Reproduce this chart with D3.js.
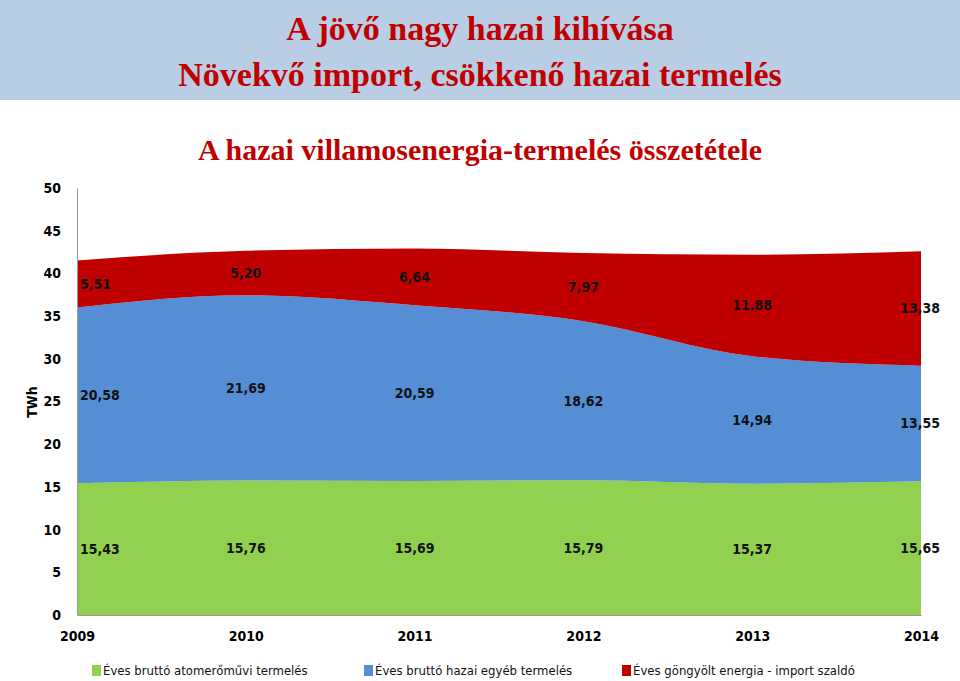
<!DOCTYPE html>
<html>
<head>
<meta charset="utf-8">
<script src="https://cdn.jsdelivr.net/npm/d3@7"></script>
<style>
  body { margin: 0; background: #fff; }
  svg { display: block; }
</style>
</head>
<body>
<div id="chart"></div>
<script>
// data
const years = ["2009", "2010", "2011", "2012", "2013", "2014"];
const nuclear = [15.43, 15.76, 15.69, 15.79, 15.37, 15.65];
const otherDomestic = [20.58, 21.69, 20.59, 18.62, 14.94, 13.55];
const importBalance = [5.51, 5.20, 6.64, 7.97, 11.88, 13.38];
const seriesNames = [
  "Éves bruttó atomerőművi termelés",
  "Éves bruttó hazai egyéb termelés",
  "Éves göngyölt energia - import szaldó"
];
const colors = ["#92d050", "#558ed5", "#c00000"];
const yTicks = [0, 5, 10, 15, 20, 25, 30, 35, 40, 45, 50];

const width = 960, height = 681;
const fmt = v => v.toFixed(2).replace(".", ",");
const bodyFont = "'DejaVu Sans Condensed', 'Liberation Sans Narrow', sans-serif";

const svg = d3.select("#chart").append("svg")
  .attr("width", width).attr("height", height);

// title band
svg.append("rect").attr("x", 0).attr("y", 0).attr("width", width).attr("height", 100)
  .attr("fill", "#b9cde5");
svg.append("text").attr("x", 480).attr("y", 40).attr("text-anchor", "middle")
  .attr("font-family", "'Liberation Serif', serif").attr("font-weight", "bold")
  .attr("font-size", 34).attr("fill", "#c00000").text("A jövő nagy hazai kihívása");
svg.append("text").attr("x", 480).attr("y", 86).attr("text-anchor", "middle")
  .attr("font-family", "'Liberation Serif', serif").attr("font-weight", "bold")
  .attr("font-size", 34).attr("fill", "#c00000").text("Növekvő import, csökkenő hazai termelés");
svg.append("text").attr("x", 480).attr("y", 160).attr("text-anchor", "middle")
  .attr("font-family", "'Liberation Serif', serif").attr("font-weight", "bold")
  .attr("font-size", 30).attr("fill", "#c00000").text("A hazai villamosenergia-termelés összetétele");

// scales
const x = d3.scalePoint().domain(years).range([77, 921]);
const y = d3.scaleLinear().domain([0, 50]).range([615, 188]);

const table = years.map((yr, i) => ({
  year: yr, a: nuclear[i], b: otherDomestic[i], c: importBalance[i]
}));
const stack = d3.stack().keys(["a", "b", "c"])(table);

const area = d3.area()
  .x(d => x(d.data.year))
  .y0(d => y(d[0]))
  .y1(d => y(d[1]))
  .curve(d3.curveMonotoneX);

svg.append("g").selectAll("path").data(stack).join("path")
  .attr("d", area).attr("fill", (d, i) => colors[i]);

// axes
const yAxis = svg.append("g").attr("transform", "translate(77,0)")
  .call(d3.axisLeft(y).tickValues(yTicks).tickSize(0).tickPadding(16));
yAxis.select(".domain").attr("stroke", "#999");
yAxis.selectAll("text").attr("font-family", bodyFont).attr("font-weight", "bold")
  .attr("font-size", 14).attr("fill", "#000");

const xAxis = svg.append("g").attr("transform", "translate(0,615)")
  .call(d3.axisBottom(x).tickSize(0).tickPadding(16));
xAxis.select(".domain").attr("stroke", "#999");
xAxis.selectAll("text").attr("font-family", bodyFont).attr("font-weight", "bold")
  .attr("font-size", 14).attr("fill", "#000");

svg.append("text").attr("transform", "translate(37,402) rotate(-90)")
  .attr("text-anchor", "middle").attr("font-family", bodyFont).attr("font-weight", "bold")
  .attr("font-size", 14).text("TWh");

// value labels at layer midpoints
stack.forEach(layer => {
  svg.append("g").selectAll("text").data(layer).join("text")
    .attr("x", (d, i) => i === 0 ? x(d.data.year) + 3 : i === years.length - 1 ? x(d.data.year) + 19 : x(d.data.year))
    .attr("y", d => y((d[0] + d[1]) / 2) + 5)
    .attr("text-anchor", (d, i) => i === 0 ? "start" : i === years.length - 1 ? "end" : "middle")
    .attr("font-family", bodyFont).attr("font-weight", "bold").attr("font-size", 14)
    .attr("fill", "#111")
    .text(d => fmt(d[1] - d[0]));
});

// legend
const legendX = [92, 364, 622];
const legend = svg.append("g").selectAll("g").data(seriesNames).join("g")
  .attr("transform", (d, i) => `translate(${legendX[i]},664)`);
legend.append("rect").attr("width", 9).attr("height", 11).attr("y", 1)
  .attr("fill", (d, i) => colors[i]);
legend.append("text").attr("x", 11).attr("y", 11)
  .attr("font-family", bodyFont).attr("font-size", 13).attr("fill", "#111")
  .text(d => d);
</script>
</body>
</html>
